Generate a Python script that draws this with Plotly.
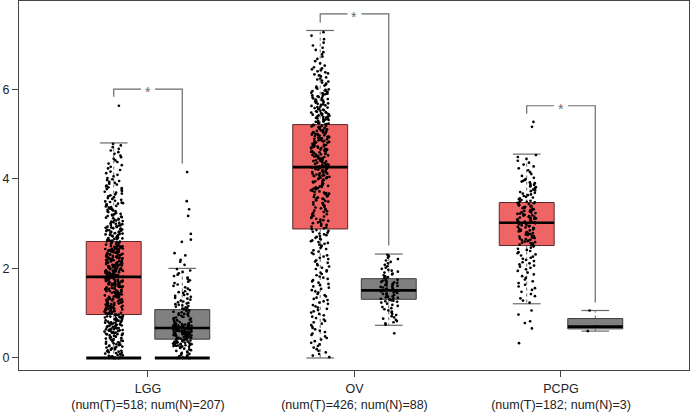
import numpy as np
import plotly.graph_objects as go

# ---------------- data ----------------
groups = ["LGG", "OV", "PCPG"]
num_T = [518, 426, 182]
num_N = [207, 88, 3]

# box statistics (tumor)
t_q1 = [0.97, 2.88, 2.51]
t_med = [1.81, 4.26, 3.02]
t_q3 = [2.60, 5.21, 3.47]
t_lo = [0.00, 0.00, 1.21]
t_hi = [4.80, 7.31, 4.55]
# box statistics (normal)
n_q1 = [0.42, 1.31, 0.65]
n_med = [0.67, 1.51, 0.70]
n_q3 = [1.08, 1.77, 0.88]
n_lo = [0.00, 0.73, 0.60]
n_hi = [2.00, 2.32, 1.06]

# estimated point distributions (histograms)
t_zeros = [12, 0, 0]
t_edges = [
    [0, 0.5, 1.0, 1.5, 2.0, 2.5, 3.0, 3.5, 4.0, 4.5, 4.8],
    [0, 0.5, 1.0, 1.5, 2.0, 2.5, 3.0, 3.5, 4.0, 4.5, 5.0, 5.5, 6.0, 6.5, 7.0, 7.31],
    [1.21, 1.5, 2.0, 2.5, 3.0, 3.5, 4.0, 4.55],
]
t_counts = [
    [48, 70, 75, 85, 85, 55, 40, 25, 14, 8],
    [14, 16, 18, 18, 18, 26, 30, 40, 55, 58, 55, 42, 22, 10, 4],
    [6, 13, 20, 44, 50, 28, 13],
]
t_extra = [[5.63], [], [5.27, 5.16, 1.06, 0.97, 0.82, 0.78, 0.66, 0.33]]

n_zeros = [10, 0, 0]
n_edges = [
    [0, 0.25, 0.5, 0.75, 1.0, 1.25, 1.5, 2.0],
    [0.73, 1.0, 1.25, 1.5, 1.75, 2.0, 2.32],
    [],
]
n_counts = [
    [15, 40, 62, 22, 18, 12, 16],
    [10, 10, 23, 22, 12, 10],
    [],
]
n_extra = [[4.15, 3.50, 3.32, 3.17, 2.77, 2.64, 2.59, 2.34, 2.29, 2.19, 2.15, 2.08],
           [0.55], [0.60, 0.70, 1.06]]

# significance brackets
br_y = [6.00, 7.68, 5.63]
br_left_end = [5.83, 7.49, 5.45]
br_right_end = [4.34, 2.51, 1.24]
sig_label = ["*", "*", "*"]

# ---------------- styling ----------------
OFF = 0.166      # T/N offset from group center
HALF = 0.133     # half box width
CAP = 0.067      # half cap width
JIT = 0.045      # jitter half width
GAP = 0.034      # gap around star
T_FILL, T_LINE = "#EF6464", "#5a2a2a"
N_FILL, N_LINE = "#808080", "#3c3c3c"
GRAY = "#6a6a6a"

fig = go.Figure()

def values_from(zeros, edges, counts, extra):
    vals = [0.0] * zeros
    for i, c in enumerate(counts):
        a, b = edges[i], edges[i + 1]
        for k in range(c):
            vals.append(a + (b - a) * (k + 0.5) / c)
    vals += list(extra)
    return np.array(vals)

def add_box(xc, q1, med, q3, lo, hi, fill, line, zeros):
    fig.add_trace(go.Scatter(x=[xc, xc, None, xc, xc], y=[q3, hi, None, q1, lo],
                             mode="lines", line=dict(color=GRAY, width=1, dash="dot"),
                             hoverinfo="skip", showlegend=False))
    fig.add_trace(go.Scatter(x=[xc - CAP, xc + CAP, None, xc - CAP, xc + CAP],
                             y=[hi, hi, None, lo, lo], mode="lines",
                             line=dict(color=GRAY, width=1.2),
                             hoverinfo="skip", showlegend=False))
    fig.add_trace(go.Scatter(x=[xc - HALF, xc + HALF, xc + HALF, xc - HALF, xc - HALF],
                             y=[q1, q1, q3, q3, q1], mode="lines", fill="toself",
                             fillcolor=fill, line=dict(color=line, width=1),
                             hoverinfo="skip", showlegend=False))
    fig.add_trace(go.Scatter(x=[xc - HALF, xc + HALF], y=[med, med], mode="lines",
                             line=dict(color="black", width=2.6),
                             hoverinfo="skip", showlegend=False))
    if zeros > 0:
        fig.add_trace(go.Scatter(x=[xc - HALF, xc + HALF], y=[0, 0], mode="lines",
                                 line=dict(color="black", width=3),
                                 hoverinfo="skip", showlegend=False))

def add_points(xc, vals, seed):
    # horizontal jitter only (display offset), from a deterministic hash
    idx = np.arange(len(vals)) + seed
    frac = (np.sin(idx * 12.9898 + 78.233) * 43758.5453) % 1.0
    xs = xc + JIT * (2 * frac - 1)
    fig.add_trace(go.Scatter(x=xs, y=vals, mode="markers",
                             marker=dict(color="black", size=2.7, line=dict(width=0)),
                             hoverinfo="skip", showlegend=False))

for g in range(len(groups)):
    xt, xn = g - OFF, g + OFF
    add_box(xt, t_q1[g], t_med[g], t_q3[g], t_lo[g], t_hi[g], T_FILL, T_LINE, t_zeros[g])
    add_box(xn, n_q1[g], n_med[g], n_q3[g], n_lo[g], n_hi[g], N_FILL, N_LINE, n_zeros[g])

for g in range(len(groups)):
    xt, xn = g - OFF, g + OFF
    add_points(xt, values_from(t_zeros[g], t_edges[g], t_counts[g], t_extra[g]), 1000 * g + 1)
    add_points(xn, values_from(n_zeros[g], n_edges[g], n_counts[g], n_extra[g]), 1000 * g + 501)

for g in range(len(groups)):
    xt, xn = g - OFF, g + OFF
    fig.add_trace(go.Scatter(
        x=[xt, xt, g - GAP, None, g + GAP, xn, xn],
        y=[br_left_end[g], br_y[g], br_y[g], None, br_y[g], br_y[g], br_right_end[g]],
        mode="lines", line=dict(color=GRAY, width=1.2),
        hoverinfo="skip", showlegend=False))
    fig.add_annotation(x=g, y=br_y[g], text=sig_label[g], showarrow=False,
                       xref="x", yref="y", yanchor="middle", yshift=-3,
                       font=dict(family="Arial", size=14, color=GRAY))

ticktext = [f"{groups[i]}<br>(num(T)={num_T[i]}; num(N)={num_N[i]})" for i in range(len(groups))]

fig.update_layout(
    width=690, height=413,
    margin=dict(l=19, r=1, t=1, b=43, autoexpand=False),
    paper_bgcolor="white", plot_bgcolor="white",
    font=dict(family="Arial", size=12.5, color="#222"),
    showlegend=False,
    xaxis=dict(range=[-0.6247, 2.62], tickvals=[0, 1, 2], ticktext=ticktext,
               automargin=False, ticklabelstandoff=1,
               showgrid=False, zeroline=False, showline=True, mirror=True,
               linecolor="#444", linewidth=1.2, ticks="outside", ticklen=6,
               tickcolor="#444", tickfont=dict(size=12.5, color="#222")),
    yaxis=dict(range=[-0.268, 7.968], tickvals=[0, 2, 4, 6], automargin=False,
               ticklabelstandoff=0,
               showgrid=False, zeroline=False, showline=True, mirror=True,
               linecolor="#444", linewidth=1.2, ticks="outside", ticklen=6,
               tickcolor="#444", tickfont=dict(size=12.5, color="#222")),
)

fig.write_html("out.html", config={"displayModeBar": False},
               post_script="document.body.style.margin='0px';document.body.style.overflow='hidden';")
